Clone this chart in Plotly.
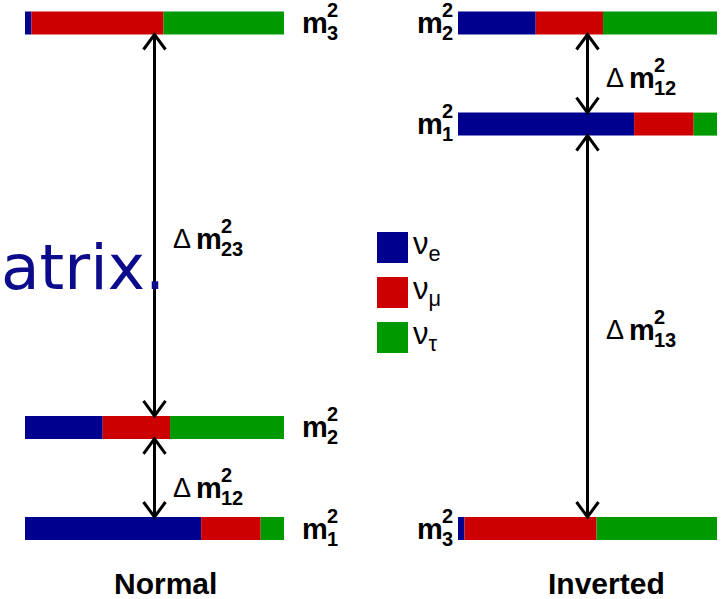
import plotly.graph_objects as go

# Flavour content of each mass eigenstate (fractions of nu_e, nu_mu, nu_tau)
flavours = ["e", "μ", "τ"]
flavour_colors = ["#00008f", "#cc0000", "#009900"]
states = ["1", "2", "3"]
frac_e = [0.68, 0.30, 0.025]
frac_mu = [0.23, 0.26, 0.51]
frac_tau = [0.09, 0.44, 0.465]

# Schematic mass-squared levels for the two orderings
normal_levels = [0.0, 2.0, 10.0]     # m1, m2, m3
inverted_levels = [8.0, 10.0, 0.0]   # m1, m2, m3
orderings = ["Normal", "Inverted"]

# Mass splittings drawn as arrows: (ordering, lower state, upper state, label subscript)
splittings = [
    ("Normal", "1", "2", "12"),
    ("Normal", "2", "3", "23"),
    ("Inverted", "3", "1", "13"),
    ("Inverted", "1", "2", "12"),
]
# vertical nudge (px) of each splitting label relative to the arrow midpoint
label_nudge = [-10, -14, -4, -4]

W, H = 725, 599
Y_RANGE = [-1.3947, 10.455]
PX_PER_UNIT = H / (Y_RANGE[1] - Y_RANGE[0])
BAR_W = 0.455
BOLD = "Liberation Sans"

fig = go.Figure()
fractions = [frac_e, frac_mu, frac_tau]
levels_by = {"Normal": normal_levels, "Inverted": inverted_levels}
axis_by = {"Normal": "x", "Inverted": "x2"}

for order in orderings:
    xa = axis_by[order]
    lv = levels_by[order]
    for fi, fl in enumerate(flavours):
        bases, widths = [], []
        for si in range(len(states)):
            bases.append(sum(fractions[k][si] for k in range(fi)))
            widths.append(fractions[fi][si] if fi < 2 else
                          1 - fractions[0][si] - fractions[1][si])
        fig.add_trace(go.Bar(
            orientation="h", y=lv, x=widths, base=bases, width=BAR_W,
            marker=dict(color=flavour_colors[fi], line=dict(width=0)),
            xaxis=xa, yaxis="y", showlegend=False, hoverinfo="skip",
        ))


def m_label(xref, x, y, xshift, sup, sub, size=29, delta=False, anchor="left", yshift=0):
    """Bold m with stacked superscript/subscript, optionally prefixed by Δ."""
    items = []
    off = 0
    if delta:
        items.append(dict(text="Δ", off=0, dy=0, size=size - 2))
        off = 23
    items.append(dict(text="<b>m</b>", off=off, dy=0, size=size))
    s_off = off + 25
    items.append(dict(text="<b>%s</b>" % sup, off=s_off, dy=13, size=20))
    items.append(dict(text="<b>%s</b>" % sub, off=s_off, dy=-10, size=20))
    total = s_off + 11 * len(sub)
    base_shift = xshift - (total if anchor == "right" else 0)
    for it in items:
        fig.add_annotation(
            xref=xref, yref="y", x=x, y=y, text=it["text"], showarrow=False,
            xanchor="left", yanchor="middle", xshift=base_shift + it["off"],
            yshift=it["dy"] + yshift,
            font=dict(family=BOLD, size=it["size"], color="black"),
        )


# Level labels
for si, st in enumerate(states):
    m_label("x", 1, normal_levels[si], 16, "2", st)
    m_label("x2", 0, inverted_levels[si], -7, "2", st, anchor="right")

# Splitting arrows with open chevron heads
head_dx = 11 / 259
head_dy = 15 / PX_PER_UNIT
for (order, lo, hi, sub), nudge in zip(splittings, label_nudge):
    xa = axis_by[order]
    lv = levels_by[order]
    y0 = lv[states.index(lo)] + BAR_W / 2
    y1 = lv[states.index(hi)] - BAR_W / 2
    xm = 0.5
    path = (f"M{xm},{y0} L{xm},{y1} "
            f"M{xm - head_dx},{y1 - head_dy} L{xm},{y1} L{xm + head_dx},{y1 - head_dy} "
            f"M{xm - head_dx},{y0 + head_dy} L{xm},{y0} L{xm + head_dx},{y0 + head_dy}")
    fig.add_shape(type="path", path=path, xref=xa, yref="y",
                  line=dict(color="black", width=3))
    m_label(xa, xm, (y0 + y1) / 2, 16, "2", sub, delta=True, yshift=nudge)

# Ordering titles
title_x = {"Normal": 165, "Inverted": 606}
for order in orderings:
    fig.add_annotation(xref="paper", yref="paper", x=title_x[order] / W, y=1 - 583 / H,
                       text="<b>%s</b>" % order, showarrow=False, xanchor="center",
                       yanchor="middle", font=dict(family=BOLD, size=30, color="black"))

# Flavour key
for fi, fl in enumerate(flavours):
    top = 232 + 45 * fi
    fig.add_shape(type="rect", xref="paper", yref="paper",
                  x0=377 / W, x1=408 / W, y0=1 - (top + 31) / H, y1=1 - top / H,
                  fillcolor=flavour_colors[fi], line=dict(width=0))
    fig.add_annotation(xref="paper", yref="paper", x=411 / W, y=1 - (top + 14) / H,
                       text="ν<sub>%s</sub>" % fl, showarrow=False, xanchor="left",
                       yanchor="middle", font=dict(family=BOLD, size=31, color="black"))

# Slide text overlapping the figure
fig.add_annotation(xref="paper", yref="paper", x=167 / W, y=1 - 267 / H, text="atrix.",
                   showarrow=False, xanchor="right", yanchor="middle",
                   font=dict(family="DejaVu Sans", size=63, color="#0b0b8c"))
fig.add_shape(type="circle", xref="paper", yref="paper", x0=-60 / W, x1=12 / W,
              y0=1 - 3 / H, y1=1 + 60 / H, fillcolor="#2e6b2e", line=dict(width=0))

fig.update_layout(
    width=W, height=H, margin=dict(l=0, r=0, t=0, b=0),
    paper_bgcolor="white", plot_bgcolor="white", barmode="overlay",
    xaxis=dict(domain=[25 / W, 284 / W], range=[0, 1], visible=False),
    xaxis2=dict(domain=[458 / W, 717 / W], range=[0, 1], visible=False),
    yaxis=dict(domain=[0, 1], range=Y_RANGE, visible=False),
)

fig.write_html("out.html")
